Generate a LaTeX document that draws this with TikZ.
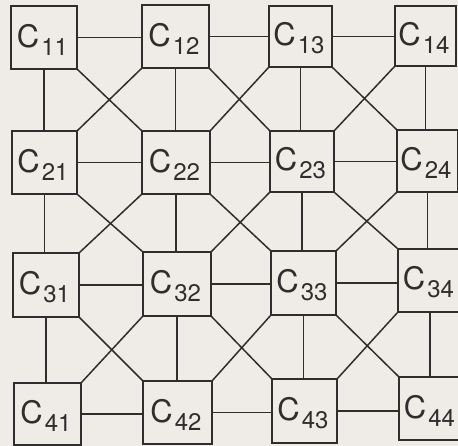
\documentclass[tikz,border=0pt]{standalone}
\usepackage{fontspec}
\setmainfont{TeX Gyre Heros}
\definecolor{bg}{HTML}{EFECE7}
\definecolor{ink}{HTML}{2E2E2E}
\newcommand{\clabel}[1]{{\fontsize{31}{31}\selectfont C}\kern2pt\lower8pt\hbox{\fontsize{24}{24}\selectfont #1}}
\newcommand{\mkcell}[5]{%
  \pgfmathsetmacro{\cx}{(#2+#4)/2}\pgfmathsetmacro{\cy}{(#3+#5)/2}%
  \pgfmathsetmacro{\cw}{#4-#2}\pgfmathsetmacro{\ch}{#5-#3}%
  \node[cellbox, minimum width=\cw pt, minimum height=\ch pt] (c#1) at (\cx,\cy) {};
  \node[lbl] (l#1) at ([xshift=-1.5pt,yshift=-2pt]c#1.center) {\clabel{#1}};}
\begin{document}
\begin{tikzpicture}[x=1pt,y=-1pt,
  cellbox/.style={draw=ink, line width=1.5pt, inner sep=0pt, outer sep=0pt},
  lbl/.style={inner sep=0pt, text=ink},
  conn/.style={draw=ink, line width=1.5pt}]
\fill[bg] (0,0) rectangle (458,446);
\useasboundingbox (0,0) rectangle (458,446);
\clip (0,0) rectangle (458,446);
\mkcell{11}{11}{6}{77}{69}
\mkcell{12}{142}{5}{209}{68}
\mkcell{13}{269}{6}{332}{67}
\mkcell{14}{395}{6}{456}{66}
\mkcell{21}{12}{131}{77}{194}
\mkcell{22}{142}{131}{210}{194}
\mkcell{23}{270}{131}{334}{192}
\mkcell{24}{397}{130}{458}{192}
\mkcell{31}{13}{253}{79}{317}
\mkcell{32}{143}{252}{211}{316}
\mkcell{33}{271}{251}{336}{315}
\mkcell{34}{398}{249}{462}{312}
\mkcell{41}{14}{383}{81}{445}
\mkcell{42}{143}{381}{212}{444}
\mkcell{43}{272}{379}{337}{443}
\mkcell{44}{399}{377}{463}{440}
% horizontal connectors
\foreach \r in {1,2,3,4}{
  \foreach \a/\b in {1/2,2/3,3/4}{
    \draw[conn] (c\r\a.east) -- (c\r\a.east -| c\r\b.west);
  }
}
% vertical connectors
\foreach \c in {1,2,3,4}{
  \foreach \a/\b in {1/2,2/3,3/4}{
    \draw[conn] (c\a\c.south) -- (c\a\c.south |- c\b\c.north);
  }
}
% diagonal connectors
\foreach \a/\b in {1/2,2/3,3/4}{
  \foreach \p/\q in {1/2,2/3,3/4}{
    \draw[conn] (c\a\p.south east) -- (c\b\q.north west);
    \draw[conn] (c\a\q.south west) -- (c\b\p.north east);
  }
}
\end{tikzpicture}
\end{document}
